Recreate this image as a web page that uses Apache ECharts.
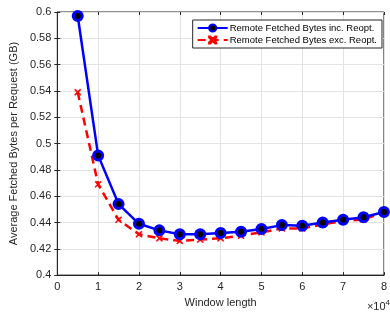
<!DOCTYPE html>
<html>
<head>
<meta charset="utf-8">
<script src="https://cdn.jsdelivr.net/npm/echarts@6/dist/echarts.min.js"></script>
<style>
  html, body { margin: 0; padding: 0; background: #fff; }
  #chart { width: 390px; height: 313px; }
</style>
</head>
<body>
<div id="chart"></div>
<script>
// window length, in units of 10^4
var windowLen = [0.5, 1, 1.5, 2, 2.5, 3, 3.5, 4, 4.5, 5, 5.5, 6, 6.5, 7, 7.5, 8];
var incReopt = [0.597, 0.491, 0.454, 0.439, 0.434, 0.431, 0.431, 0.432, 0.433, 0.435, 0.438, 0.4375, 0.440, 0.442, 0.444, 0.448];
var excReopt = [0.539, 0.469, 0.442, 0.431, 0.428, 0.426, 0.427, 0.428, 0.430, 0.4325, 0.4355, 0.4355, 0.4385, 0.441, 0.4425, 0.4475];
var seriesNames = ['Remote Fetched Bytes inc. Reopt.', 'Remote Fetched Bytes exc. Reopt.'];

var font = 'Liberation Sans';
var axisCol = '#262626';
var xMark = 'path://M0,0 L1.5,0 L10,8.5 L10,10 L8.5,10 L0,1.5 Z M10,0 L10,1.5 L1.5,10 L0,10 L0,8.5 L8.5,0 Z';

function pairs(xs, ys) {
   var out = [];
   for (var i = 0; i < xs.length; i++) out.push([xs[i], ys[i]]);
   return out;
}

var chart = echarts.init(document.getElementById('chart'));
var option = {
   animation: false,
   grid: { left: 49, right: 1, top: 12, bottom: 34, show: true, borderColor: axisCol, borderWidth: 1 },
   legend: {
      right: 8, top: 20,
      orient: 'vertical',
      backgroundColor: '#fff',
      borderColor: axisCol, borderWidth: 1,
      padding: [3, 5, 3, 4],
      itemGap: 2,
      itemWidth: 30, itemHeight: 9,
      textStyle: { fontFamily: font, fontSize: 9.5, color: '#000', padding: [0, 0, 0, -3] },
      data: seriesNames
   },
   xAxis: [{
      type: 'value', min: 0, max: 8, interval: 1,
      name: 'Window length', nameLocation: 'middle', nameGap: 21,
      nameTextStyle: { fontFamily: font, fontSize: 11, color: axisCol },
      axisLine: { onZero: false, lineStyle: { color: axisCol } },
      axisTick: { inside: true, length: 3, lineStyle: { color: axisCol } },
      axisLabel: { fontFamily: font, fontSize: 11, color: axisCol, margin: 6 },
      splitLine: { show: true, lineStyle: { color: '#e3e3e3' } }
   }, {
      type: 'value', min: 0, max: 8, interval: 1, position: 'top',
      axisLine: { show: false },
      axisTick: { inside: true, length: 3, lineStyle: { color: axisCol } },
      axisLabel: { show: false }, splitLine: { show: false }
   }],
   yAxis: [{
      type: 'value', min: 0.4, max: 0.6, interval: 0.02,
      name: 'Average Fetched Bytes per Request (GB)', nameLocation: 'middle', nameGap: 32,
      nameTextStyle: { fontFamily: font, fontSize: 11, color: axisCol },
      axisLine: { show: true, lineStyle: { color: axisCol } },
      axisTick: { show: true, inside: true, length: 3, lineStyle: { color: axisCol } },
      axisLabel: { fontFamily: font, fontSize: 11, color: axisCol, margin: 6,
         formatter: function (v) { return String(+v.toFixed(2)); } },
      splitLine: { show: true, lineStyle: { color: '#e3e3e3' } }
   }, {
      type: 'value', min: 0.4, max: 0.6, interval: 0.02, position: 'right',
      axisLine: { show: false },
      axisTick: { show: true, inside: true, length: 3, lineStyle: { color: axisCol } },
      axisLabel: { show: false }, splitLine: { show: false }
   }],
   series: [{
      name: seriesNames[0], type: 'line',
      data: pairs(windowLen, incReopt),
      symbol: 'circle', symbolSize: 9,
      lineStyle: { color: '#0000ff', width: 2.5 },
      itemStyle: { color: '#000', borderColor: '#0000ff', borderWidth: 3 },
      z: 3
   }, {
      name: seriesNames[1], type: 'line',
      data: pairs(windowLen, excReopt),
      symbol: xMark, symbolSize: 6,
      lineStyle: { color: '#ff0000', width: 2.5, type: [8, 5] },
      itemStyle: { color: '#ff0000', borderColor: '#ff0000', borderWidth: 0.5 },
      z: 2
   }],
   graphic: [{
      type: 'text', right: 0, bottom: 1,
      style: {
         text: '×10{s|4}',
         rich: { s: { fontSize: 8, fontFamily: font, fill: axisCol, verticalAlign: 'top', padding: [0, 0, 7, 0] } },
         font: '11px "Liberation Sans"', fill: axisCol
      }
   }]
};
chart.setOption(option);
</script>
</body>
</html>
